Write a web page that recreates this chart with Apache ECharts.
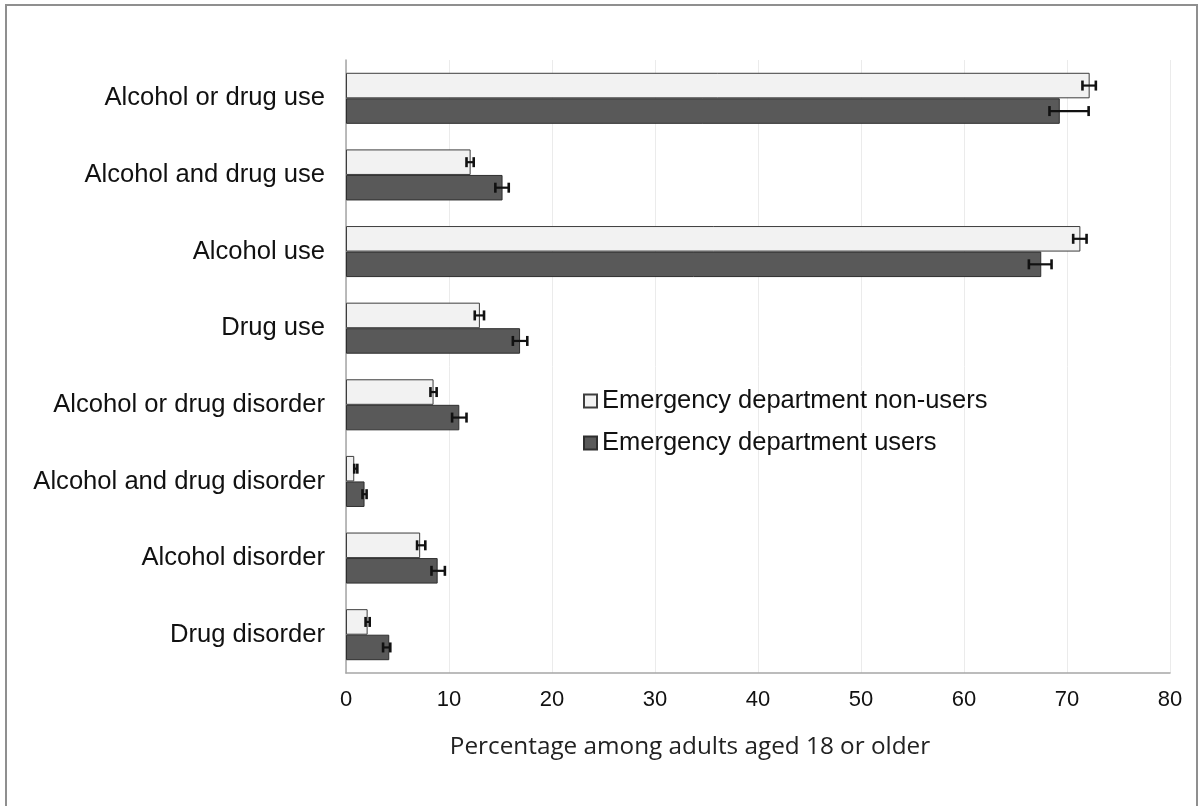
<!DOCTYPE html>
<html>
<head>
<meta charset="utf-8">
<script src="https://cdn.jsdelivr.net/npm/echarts@6/dist/echarts.min.js"></script>
<style>
  html, body { margin: 0; padding: 0; background: #ffffff; }
  #chart { width: 1200px; height: 806px; }
</style>
</head>
<body>
<div id="chart"></div>
<script>
// Substance use among adults, by emergency department use (percent, with confidence intervals)
const categories = [
  'Alcohol or drug use',
  'Alcohol and drug use',
  'Alcohol use',
  'Drug use',
  'Alcohol or drug disorder',
  'Alcohol and drug disorder',
  'Alcohol disorder',
  'Drug disorder'
];
const nonUsers     = [72.2, 12.1, 71.3, 13.0, 8.5, 0.8, 7.2, 2.1];
const nonUsersLow  = [71.5, 11.7, 70.6, 12.5, 8.2, 0.8, 6.9, 1.9];
const nonUsersHigh = [72.8, 12.4, 71.9, 13.4, 8.8, 1.1, 7.7, 2.3];
const users        = [69.3, 15.2, 67.5, 16.9, 11.0, 1.8, 8.9, 4.2];
const usersLow     = [68.3, 14.5, 66.3, 16.2, 10.3, 1.6, 8.3, 3.6];
const usersHigh    = [72.1, 15.8, 68.5, 17.6, 11.7, 2.0, 9.6, 4.3];
const xTicks = { min: 0, max: 80, interval: 10 };

const seriesNames = ['Emergency department non-users', 'Emergency department users'];
const BAR_FRACTION = 0.333;

function errorData(low, high) {
  return low.map((v, i) => [v, high[i], i]);
}

function errorRenderer(sign) {
  return function (params, api) {
    const idx = api.value(2);
    const a = api.coord([api.value(0), idx]);
    const b = api.coord([api.value(1), idx]);
    const band = api.size([0, 1])[1];
    const y = a[1] + sign * band * BAR_FRACTION / 2;
    const cap = 5;
    const stem = { stroke: '#111111', lineWidth: 2.2 };
    const capStyle = { stroke: '#111111', lineWidth: 2.6 };
    return {
      type: 'group',
      children: [
        { type: 'line', shape: { x1: a[0], y1: y, x2: b[0], y2: y }, style: stem },
        { type: 'line', shape: { x1: a[0], y1: y - cap, x2: a[0], y2: y + cap }, style: capStyle },
        { type: 'line', shape: { x1: b[0], y1: y - cap, x2: b[0], y2: y + cap }, style: capStyle }
      ]
    };
  };
}

const chart = echarts.init(document.getElementById('chart'), null, { renderer: 'canvas' });

chart.setOption({
  animation: false,
  backgroundColor: '#ffffff',
  textStyle: { fontFamily: '"Liberation Sans", Arial, sans-serif' },
  grid: { left: 346, right: 30, top: 60, bottom: 133, containLabel: false },
  graphic: [
    {
      type: 'rect',
      shape: { x: 6, y: 5, width: 1191, height: 840 },
      style: { fill: 'none', stroke: '#8f8f8f', lineWidth: 2 },
      silent: true
    },
    {
      type: 'text',
      x: 690, y: 747,
      style: {
        text: 'Percentage among adults aged 18 or older',
        font: '24.3px "Open Sans", Lato, sans-serif',
        fill: '#222222',
        align: 'center',
        verticalAlign: 'middle'
      },
      silent: true
    }
  ],
  legend: {
    orient: 'vertical',
    left: 578,
    top: 383,
    itemWidth: 13,
    itemHeight: 13,
    itemGap: 16,
    icon: 'rect',
    textStyle: { fontSize: 25.5, lineHeight: 25, color: '#111111', fontFamily: '"Liberation Sans", Arial, sans-serif' },
    data: seriesNames
  },
  xAxis: {
    type: 'value',
    min: xTicks.min,
    max: xTicks.max,
    interval: xTicks.interval,
    axisLine: { show: true, lineStyle: { color: '#a6a6a6', width: 1.5 } },
    axisTick: { show: false },
    axisLabel: { fontSize: 22, color: '#111111', margin: 16 },
    splitLine: { show: true, lineStyle: { color: '#ebebeb', width: 1 } }
  },
  yAxis: {
    type: 'category',
    data: categories,
    inverse: true,
    axisLine: { show: true, lineStyle: { color: '#a6a6a6', width: 1.5 } },
    axisTick: { show: false },
    axisLabel: { fontSize: 25.6, color: '#111111', margin: 21, padding: [4, 0, 0, 0] }
  },
  series: [
    {
      name: seriesNames[0],
      type: 'bar',
      data: nonUsers,
      barWidth: '33.3%',
      barGap: '0%',
      itemStyle: { color: '#f2f2f2', borderColor: '#3d3d3d', borderWidth: 1 }
    },
    {
      name: seriesNames[1],
      type: 'bar',
      data: users,
      barWidth: '33.3%',
      barGap: '0%',
      itemStyle: { color: '#595959', borderColor: '#2e2e2e', borderWidth: 1 }
    },
    {
      type: 'custom',
      data: errorData(nonUsersLow, nonUsersHigh),
      encode: { x: [0, 1], y: 2 },
      renderItem: errorRenderer(-1),
      z: 5,
      silent: true
    },
    {
      type: 'custom',
      data: errorData(usersLow, usersHigh),
      encode: { x: [0, 1], y: 2 },
      renderItem: errorRenderer(1),
      z: 5,
      silent: true
    }
  ]
});
</script>
</body>
</html>
